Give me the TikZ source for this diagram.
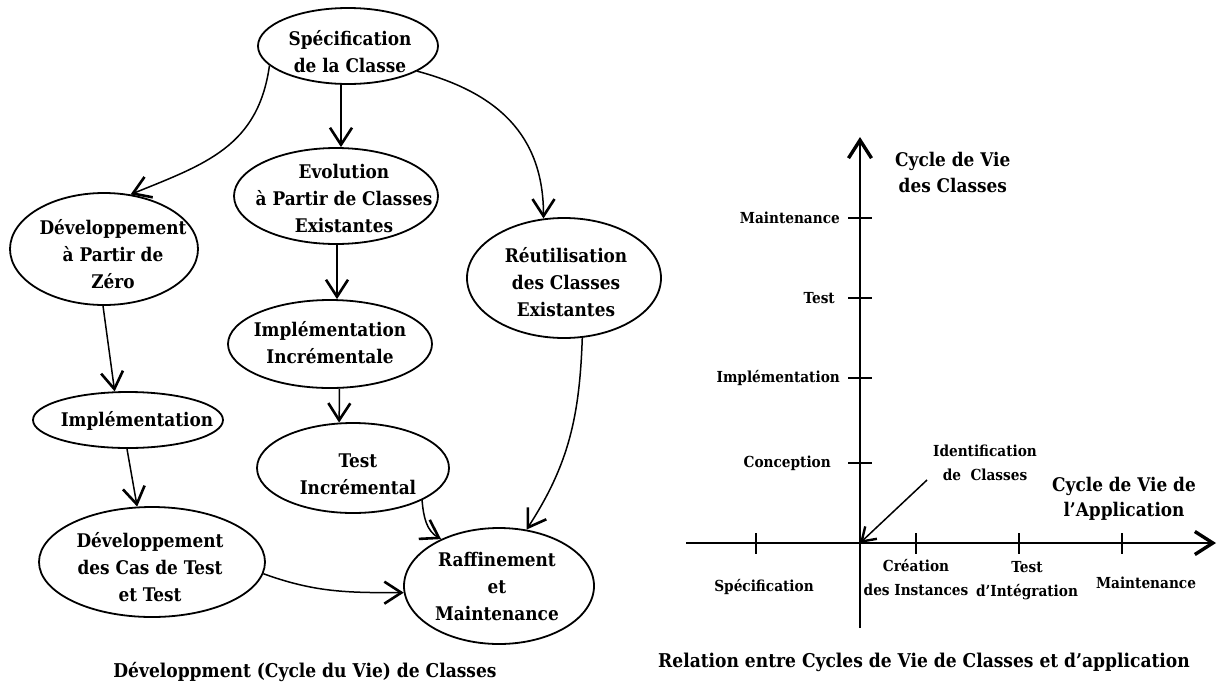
\documentclass[tikz,border=0pt]{standalone}
\usepackage{fontspec}
\setmainfont{DejaVu Serif Condensed}
\usetikzlibrary{shapes.geometric,arrows.meta}
\begin{document}
\begin{tikzpicture}[x=1pt,y=-1pt,
  ell/.style={draw,ellipse,line width=1.8pt,inner sep=0pt},
  txt/.style={font=\fontsize{18.8}{27}\selectfont\bfseries,align=center,inner sep=0pt},
  sml/.style={font=\fontsize{15.2}{24}\selectfont\bfseries,align=center,inner sep=0pt},
  captxt/.style={font=\fontsize{19}{22}\selectfont\bfseries,inner sep=0pt},
  arr/.style={line width=1.5pt,-{Straight Barb[length=17pt,width=22pt,line width=2.6pt]}},
  axisln/.style={line width=2pt,-{Straight Barb[length=18pt,width=23pt,line width=3.4pt]}},
  tickln/.style={line width=1.8pt}
]
\useasboundingbox (0,0) rectangle (1217,683);

% ---------- left diagram ----------
\node[ell,minimum width=180pt,minimum height=76pt] (spec) at (348,46) {};
\node[txt] (specT) at (350,52) {Spécification\\de la Classe};

\node[ell,minimum width=204pt,minimum height=96pt] (evo) at (336,196) {};
\node[txt] (evoT) at (344,198) {Evolution\\à Partir de Classes\\Existantes};

\node[ell,minimum width=188pt,minimum height=112pt] (zero) at (104,249) {};
\node[txt] (zeroT) at (113,254) {Développement\\à Partir de\\Zéro};

\node[ell,minimum width=194pt,minimum height=120pt] (reut) at (564,278) {};
\node[txt] (reutT) at (566,282) {Réutilisation\\des Classes\\Existantes};

\node[ell,minimum width=204pt,minimum height=88pt] (incr) at (330,344) {};
\node[txt] (incrT) at (330,343) {Implémentation\\Incrémentale};

\node[ell,minimum width=190pt,minimum height=56pt] (impl) at (128,420) {};
\node[txt] (implT) at (137,421) {Implémentation};

\node[ell,minimum width=192pt,minimum height=90pt] (test) at (353,468) {};
\node[txt] (testT) at (358,474) {Test\\Incrémental};

\node[ell,minimum width=226pt,minimum height=110pt] (cas) at (152,562) {};
\node[txt] (casT) at (150,567) {Développement\\des Cas de Test\\et Test};

\node[ell,minimum width=190pt,minimum height=116pt] (raff) at (499,586) {};
\node[txt] (raffT) at (497,586) {Raffinement\\et\\Maintenance};

\draw[arr] ([xshift=-7pt]spec.south) -- ([xshift=5pt]evo.north);
\draw[arr] (spec.194) to[out=-98,in=22,looseness=1.1] (zero.64);
\draw[arr] (spec.-20) to[out=-15,in=90,looseness=1.1] (reut.109);
\draw[arr] ([xshift=1pt]evo.south) -- ([xshift=7pt]incr.north);
\draw[arr] (zero.-91) -- (impl.115);
\draw[arr] (impl.-92) -- (cas.105);
\draw[arr] (incr.-78) -- (test.107);
\draw[arr] (test.-25) to[out=-85,in=150] (raff.141);
\draw[arr] (cas.-6) to[out=-20,in=180] (raff.184);
\draw[arr] (reut.-73) to[out=-92,in=57] (raff.64);

\node[captxt] (capL) at (305,672) {Développment (Cycle du Vie) de Classes};

% ---------- right diagram ----------
\coordinate (O) at (860,543);
\coordinate (yb) at (860,628);
\coordinate (yt) at (860,137);
\coordinate (xl) at (686,543);
\coordinate (xr) at (1216,543);
\draw[axisln] (yb) -- (yt);
\draw[axisln] (xl) -- (xr);

\foreach \n/\y in {m/218,t/298,i/378,c/463}{
  \coordinate (yl\n) at (848,\y);
  \coordinate (yr\n) at (872,\y);
  \draw[tickln] (yl\n) -- (yr\n);
}
\foreach \n/\x in {s/756,cr/916,ti/1019,ma/1122}{
  \coordinate (xt\n) at (\x,533);
  \coordinate (xb\n) at (\x,554);
  \draw[tickln] (xt\n) -- (xb\n);
}

\node[sml,anchor=east] (lm) at (840,218) {Maintenance};
\node[sml,anchor=east] (lt) at (835,298) {Test};
\node[sml,anchor=east] (li) at (840,378) {Implémentation};
\node[sml,anchor=east] (lc) at (831,463) {Conception};

\node[font=\fontsize{18.8}{26}\selectfont\bfseries,align=center,inner sep=0pt,anchor=west] (cvc) at (895,172) {Cycle de Vie\\des Classes};

\node[sml] (ident) at (985,463) {Identification\\de\ \ Classes};
\coordinate (ia) at (927,480);
\draw[line width=1.5pt,-{Straight Barb[length=13pt,width=17pt,line width=2.4pt]}] (ia) -- (O);

\node[font=\fontsize{18.8}{25}\selectfont\bfseries,align=center,inner sep=0pt] (cva) at (1124,499) {Cycle de Vie de\\l'Application};

\node[sml] (xs) at (764,587) {Spécification};
\node[sml] (xc) at (916,578) {Création\\des Instances};
\node[sml] (xti) at (1027,581) {Test\\d'Intégration};
\node[sml] (xm) at (1146,583) {Maintenance};

\node[captxt] (capR) at (924,662) {Relation entre Cycles de Vie de Classes et d'application};
\end{tikzpicture}
\end{document}
